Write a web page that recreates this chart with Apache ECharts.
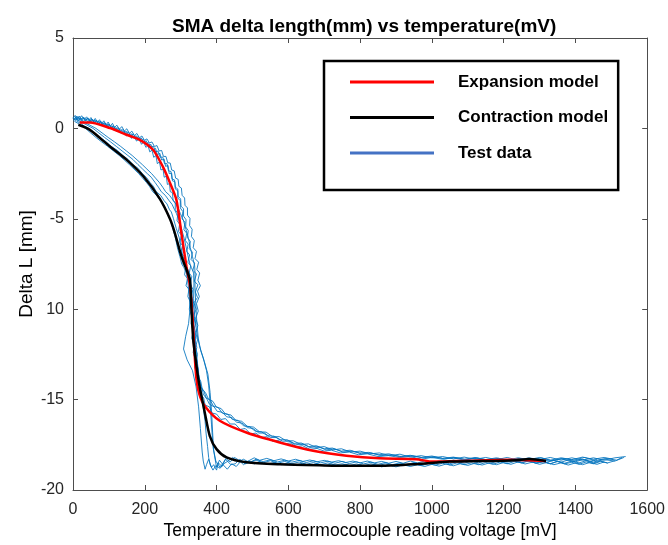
<!DOCTYPE html>
<html>
<head>
<meta charset="utf-8">
<script src="https://cdn.jsdelivr.net/npm/echarts@6/dist/echarts.min.js"></script>
<style>html,body{margin:0;padding:0;background:#fff}#chart{width:668px;height:545px}</style>
</head>
<body>
<div id="chart"></div>
<script>
const titleText = 'SMA delta length(mm) vs temperature(mV)';
const xAxisName = 'Temperature in thermocouple reading voltage [mV]';
const yAxisName = 'Delta L [mm]';
const yTickValues = [-20, -15, -10, -5, 0, 5];
const yTickLabels = ['-20', '-15', '10', '-5', '0', '5'];
const seriesNames = ['Expansion model', 'Contraction model', 'Test data'];

const expansionModel = [[19,0.33],[47,0.33],[103,0.02],[149,-0.35],[186,-0.63],[223,-1.18],[250,-2.1],[270,-3.0],[288,-3.94],[302,-5.78],[316,-7.62],[326,-8.72],[333,-10.38],[338,-12.2],[344,-13.87],[352,-14.7],[367,-15.35],[409,-16.17],[483,-16.82],[576,-17.37],[669,-17.83],[762,-18.1],[854,-18.25],[956,-18.3],[1003,-18.43],[1104,-18.38],[1216,-18.33],[1318,-18.4]];

const contractionModel = [[15,0.2],[47,-0.08],[103,-1.0],[149,-1.73],[196,-2.65],[242,-3.9],[270,-5.0],[284,-5.8],[302,-7.07],[318,-7.9],[326,-8.4],[330,-10.0],[335,-11.67],[344,-13.14],[352,-14.2],[360,-15.0],[367,-15.7],[381,-17.0],[400,-17.74],[428,-18.2],[483,-18.47],[576,-18.58],[700,-18.64],[771,-18.66],[863,-18.66],[956,-18.57],[1049,-18.43],[1141,-18.4],[1234,-18.35],[1271,-18.29],[1318,-18.4]];

const testHeat1 = [[0,0.55],[6,0.72],[12,0.5],[18,0.68],[24,0.45],[30,0.62],[36,0.42],[42,0.58],[48,0.36],[54,0.52],[60,0.3],[66,0.45],[72,0.22],[78,0.38],[84,0.14],[90,0.3],[96,0.05],[102,0.2],[108,-0.05],[114,0.1],[121,-0.15],[128,-0.02],[135,-0.3],[142,-0.15],[149,-0.42],[156,-0.3],[163,-0.55],[170,-0.42],[177,-0.7],[184,-0.58],[191,-0.88],[197,-0.75],[203,-1.05],[209,-0.95],[214,-1.3],[220,-1.2],[225,-1.6],[231,-1.5],[235,-1.95],[241,-1.85],[245,-2.3],[251,-2.25],[254,-2.7],[260,-2.65],[263,-3.1],[269,-3.05],[271,-3.5],[277,-3.55],[279,-4.0],[285,-4.1],[285,-4.5],[292,-4.7],[290,-5.1],[297,-5.3],[294,-5.7],[302,-5.9],[298,-6.3],[306,-6.5],[302,-6.9],[310,-7.1],[306,-7.5],[314,-7.7],[311,-8.1],[319,-8.3],[315,-8.7],[323,-8.9],[320,-9.3],[327,-9.6],[324,-10.0],[331,-10.4],[329,-10.8],[335,-11.2],[331,-11.6],[337,-12.0],[335,-12.4],[341,-12.8],[339,-13.2],[346,-13.6],[345,-14.0],[353,-14.3],[355,-14.7],[364,-14.9],[368,-15.3],[380,-15.4],[388,-15.75],[400,-15.8],[412,-16.1],[425,-16.05],[438,-16.35],[452,-16.35],[466,-16.65],[480,-16.6],[495,-16.9],[510,-16.85],[525,-17.1],[540,-17.05],[556,-17.3],[572,-17.25],[588,-17.45],[605,-17.4],[622,-17.6],[640,-17.55],[660,-17.75],[680,-17.7],[700,-17.85],[720,-17.8],[745,-17.95],[770,-17.9],[795,-18.05],[820,-18.0],[850,-18.15],[880,-18.1],[910,-18.2],[940,-18.15],[970,-18.3],[1000,-18.2],[1030,-18.3],[1060,-18.22],[1090,-18.35],[1120,-18.25],[1150,-18.38],[1180,-18.28],[1210,-18.4],[1240,-18.3],[1270,-18.42],[1300,-18.3],[1330,-18.4],[1360,-18.28],[1390,-18.42],[1420,-18.3],[1450,-18.45],[1480,-18.32],[1510,-18.4],[1535,-18.2]];

const testHeat2 = [[2,0.45],[8,0.62],[15,0.4],[22,0.58],[29,0.38],[36,0.55],[42,0.32],[48,0.5],[54,0.28],[60,0.46],[66,0.22],[72,0.4],[78,0.15],[84,0.32],[90,0.08],[96,0.25],[102,-0.02],[108,0.15],[114,-0.1],[120,0.05],[127,-0.2],[134,-0.05],[141,-0.3],[148,-0.15],[155,-0.42],[162,-0.28],[169,-0.52],[176,-0.4],[183,-0.65],[190,-0.52],[197,-0.8],[204,-0.68],[210,-0.98],[217,-0.88],[223,-1.2],[230,-1.1],[235,-1.45],[242,-1.38],[247,-1.75],[254,-1.7],[258,-2.1],[265,-2.05],[268,-2.5],[275,-2.48],[277,-2.9],[284,-2.95],[285,-3.35],[292,-3.45],[292,-3.85],[299,-4.0],[299,-4.4],[306,-4.6],[304,-5.0],[312,-5.2],[309,-5.6],[317,-5.8],[313,-6.2],[321,-6.4],[317,-6.8],[325,-7.0],[320,-7.4],[328,-7.6],[324,-8.0],[331,-8.2],[327,-8.6],[334,-8.9],[330,-9.3],[337,-9.7],[333,-10.1],[339,-10.5],[336,-10.9],[342,-11.3],[339,-11.7],[345,-12.1],[341,-12.5],[347,-12.9],[345,-13.3],[351,-13.7],[351,-14.1],[360,-14.4],[363,-14.7],[374,-15.0],[380,-15.25],[393,-15.4],[402,-15.65],[416,-15.7],[428,-15.95],[443,-16.0],[456,-16.25],[471,-16.3],[486,-16.55],[502,-16.6],[518,-16.85],[534,-16.85],[550,-17.1],[566,-17.1],[584,-17.3],[602,-17.3],[620,-17.5],[640,-17.45],[660,-17.65],[682,-17.6],[705,-17.78],[728,-17.72],[752,-17.9],[778,-17.85],[804,-18.0],[830,-17.95],[858,-18.1],[886,-18.05],[915,-18.15],[945,-18.1],[975,-18.22],[1005,-18.15],[1035,-18.28],[1065,-18.2],[1095,-18.32],[1125,-18.22],[1155,-18.35],[1185,-18.25],[1215,-18.38],[1245,-18.25],[1275,-18.35],[1305,-18.22],[1335,-18.38],[1365,-18.25],[1395,-18.35],[1425,-18.2],[1455,-18.38],[1485,-18.25],[1515,-18.35],[1530,-18.2]];

const testHeat3 = [[0,0.62],[7,0.45],[14,0.66],[21,0.48],[28,0.6],[34,0.42],[40,0.56],[46,0.38],[52,0.5],[58,0.32],[64,0.45],[70,0.25],[76,0.4],[82,0.18],[88,0.32],[94,0.1],[100,0.25],[106,0.02],[112,0.15],[119,-0.08],[126,0.05],[133,-0.18],[140,-0.05],[147,-0.3],[154,-0.18],[161,-0.42],[168,-0.3],[175,-0.55],[182,-0.45],[189,-0.7],[196,-0.6],[203,-0.85],[210,-0.78],[217,-1.05],[224,-0.98],[230,-1.3],[237,-1.25],[243,-1.6],[250,-1.58],[255,-1.95],[262,-1.95],[266,-2.35],[273,-2.38],[276,-2.8],[283,-2.85],[285,-3.25],[292,-3.35],[293,-3.75],[300,-3.9],[301,-4.3],[308,-4.45],[308,-4.85],[315,-5.05],[314,-5.45],[321,-5.65],[319,-6.05],[327,-6.25],[324,-6.65],[333,-6.85],[329,-7.25],[339,-7.45],[334,-7.85],[344,-8.05],[338,-8.45],[348,-8.65],[341,-9.05],[347,-9.35],[337,-9.65],[343,-10.0],[336,-10.4],[342,-10.8],[336,-11.2],[342,-11.6],[337,-12.0],[343,-12.4],[340,-12.8],[347,-13.2],[345,-13.6],[353,-13.9],[356,-14.3],[365,-14.55],[371,-14.9],[383,-15.05],[391,-15.35],[405,-15.45],[416,-15.75],[431,-15.8],[444,-16.1],[460,-16.15],[475,-16.45],[492,-16.5],[508,-16.75],[525,-16.78],[542,-17.0],[560,-17.02],[578,-17.22],[597,-17.22],[616,-17.42],[636,-17.4],[657,-17.6],[678,-17.55],[700,-17.72],[723,-17.68],[747,-17.85],[772,-17.8],[798,-17.95],[824,-17.92],[852,-18.05],[880,-18.0],[910,-18.15],[940,-18.08],[970,-18.2],[1000,-18.12],[1030,-18.25],[1060,-18.18],[1090,-18.3],[1120,-18.2],[1150,-18.32],[1180,-18.22],[1210,-18.35],[1240,-18.22],[1270,-18.32],[1300,-18.2],[1330,-18.35],[1360,-18.22],[1390,-18.32],[1420,-18.18],[1450,-18.3],[1480,-18.2],[1505,-18.3]];

const testHeat4 = [[4,0.5],[10,0.68],[17,0.52],[24,0.7],[31,0.5],[38,0.64],[44,0.45],[50,0.6],[56,0.4],[62,0.55],[68,0.34],[74,0.48],[80,0.28],[86,0.42],[92,0.2],[98,0.35],[104,0.12],[110,0.28],[116,0.05],[122,0.18],[129,-0.05],[136,0.1],[143,-0.15],[150,-0.02],[157,-0.28],[164,-0.15],[171,-0.4],[178,-0.28],[185,-0.52],[192,-0.42],[199,-0.66],[206,-0.58],[213,-0.8],[220,-0.75],[227,-1.0],[234,-0.95],[240,-1.25],[247,-1.22],[252,-1.55],[259,-1.55],[264,-1.9],[271,-1.92],[275,-2.3],[282,-2.35],[286,-2.75],[293,-2.82],[295,-3.2],[302,-3.3],[304,-3.7],[311,-3.85],[312,-4.25],[319,-4.4],[319,-4.8],[326,-4.98],[325,-5.38],[332,-5.58],[330,-5.98],[338,-6.2],[335,-6.6],[344,-6.8],[340,-7.2],[350,-7.4],[345,-7.8],[353,-8.0],[348,-8.4],[355,-8.7],[347,-9.0],[352,-9.3],[344,-9.7],[349,-10.1],[342,-10.5],[348,-10.9],[342,-11.3],[347,-11.7],[341,-12.1],[347,-12.5],[343,-12.9],[349,-13.3],[348,-13.7],[356,-14.0],[360,-14.4],[370,-14.65],[377,-14.95],[390,-15.1],[399,-15.4],[413,-15.5],[425,-15.8],[440,-15.85],[454,-16.15],[470,-16.2],[486,-16.48],[503,-16.52],[520,-16.78],[538,-16.8],[556,-17.05],[575,-17.05],[594,-17.28],[614,-17.28],[635,-17.48],[656,-17.45],[678,-17.65],[700,-17.6],[724,-17.78],[748,-17.72],[774,-17.9],[800,-17.85],[827,-18.0],[854,-17.95],[882,-18.1],[911,-18.02],[940,-18.18],[970,-18.1],[1000,-18.22],[1030,-18.15],[1060,-18.28],[1090,-18.18],[1120,-18.3],[1150,-18.2],[1180,-18.32],[1210,-18.2],[1240,-18.35],[1270,-18.22],[1300,-18.32],[1330,-18.2],[1360,-18.35],[1390,-18.22],[1420,-18.35],[1450,-18.22],[1480,-18.35],[1510,-18.22],[1540,-18.15]];

const testCool1 = [[1510,-18.38],[1490,-18.5],[1470,-18.42],[1450,-18.55],[1430,-18.45],[1410,-18.58],[1390,-18.47],[1370,-18.55],[1350,-18.43],[1330,-18.55],[1310,-18.45],[1290,-18.52],[1270,-18.4],[1250,-18.5],[1230,-18.42],[1210,-18.55],[1190,-18.45],[1170,-18.58],[1150,-18.48],[1130,-18.6],[1110,-18.5],[1090,-18.6],[1070,-18.5],[1050,-18.62],[1030,-18.52],[1010,-18.62],[990,-18.55],[970,-18.65],[950,-18.55],[930,-18.65],[910,-18.56],[890,-18.66],[870,-18.55],[850,-18.65],[830,-18.55],[810,-18.66],[790,-18.56],[770,-18.65],[750,-18.55],[730,-18.62],[710,-18.5],[690,-18.6],[670,-18.48],[650,-18.58],[630,-18.45],[610,-18.55],[590,-18.42],[570,-18.52],[550,-18.38],[530,-18.5],[510,-18.35],[492,-18.48],[475,-18.3],[460,-18.45],[445,-18.2],[432,-18.4],[420,-18.55],[410,-18.8],[398,-18.65],[390,-18.9],[382,-18.6],[378,-18.2],[375,-17.6],[371,-16.9],[368,-16.2],[364,-15.6],[360,-14.9],[356,-14.3],[351,-13.7],[347,-13.0],[343,-12.4],[340,-11.7],[337,-11.1],[335,-10.4],[333,-9.8],[331,-9.1],[328,-8.5],[324,-8.0],[316,-7.6],[312,-7.5],[306,-7.05],[303,-6.95],[300,-6.5],[296,-6.05],[293,-5.95],[288,-5.55],[284,-5.45],[280,-5.0],[274,-4.62],[269,-4.5],[262,-4.18],[254,-4.0],[245,-3.72],[232,-3.5],[224,-3.2],[215,-3.0],[205,-2.72],[193,-2.5],[181,-2.2],[167,-2.0],[154,-1.72],[139,-1.5],[124,-1.22],[107,-1.0],[91,-0.72],[74,-0.5],[59,-0.22],[44,0.0],[32,0.12],[20,0.3],[11,0.38],[5,0.5]];

const testCool2 = [[1490,-18.52],[1470,-18.4],[1450,-18.5],[1430,-18.38],[1410,-18.5],[1390,-18.4],[1370,-18.52],[1350,-18.4],[1330,-18.55],[1310,-18.42],[1290,-18.5],[1270,-18.38],[1250,-18.48],[1230,-18.36],[1210,-18.46],[1190,-18.36],[1170,-18.48],[1150,-18.38],[1130,-18.5],[1110,-18.4],[1090,-18.52],[1070,-18.42],[1050,-18.55],[1030,-18.44],[1010,-18.55],[990,-18.45],[970,-18.58],[950,-18.48],[930,-18.6],[910,-18.5],[890,-18.6],[870,-18.48],[850,-18.58],[830,-18.46],[810,-18.56],[790,-18.44],[770,-18.54],[750,-18.42],[730,-18.52],[710,-18.4],[690,-18.5],[670,-18.38],[650,-18.48],[630,-18.36],[610,-18.46],[590,-18.35],[570,-18.45],[550,-18.33],[530,-18.43],[510,-18.3],[495,-18.45],[480,-18.55],[468,-18.4],[455,-18.7],[442,-18.55],[430,-18.85],[418,-18.6],[408,-18.35],[400,-18.75],[396,-18.8],[390,-17.6],[386,-16.4],[382,-15.2],[378,-14.2],[372,-13.4],[363,-12.7],[352,-12.0],[344,-11.2],[339,-10.3],[336,-9.4],[337,-8.6],[336,-8.0],[330,-7.7],[326,-7.5],[321,-7.1],[319,-7.0],[315,-6.55],[314,-6.5],[310,-6.1],[308,-6.0],[303,-5.6],[300,-5.5],[296,-5.1],[294,-5.0],[288,-4.7],[283,-4.5],[276,-4.2],[268,-4.0],[257,-3.7],[246,-3.5],[238,-3.25],[229,-3.0],[218,-2.7],[207,-2.5],[194,-2.25],[181,-2.0],[167,-1.72],[153,-1.5],[137,-1.25],[121,-1.0],[105,-0.75],[88,-0.5],[72,-0.25],[56,0.0],[42,0.15],[28,0.3],[16,0.42],[5,0.55]];

const testCool3 = [[1480,-18.45],[1460,-18.58],[1440,-18.48],[1420,-18.6],[1400,-18.5],[1380,-18.62],[1360,-18.5],[1340,-18.6],[1320,-18.48],[1300,-18.58],[1280,-18.46],[1260,-18.56],[1240,-18.45],[1220,-18.58],[1200,-18.48],[1180,-18.6],[1160,-18.5],[1140,-18.62],[1120,-18.52],[1100,-18.64],[1080,-18.54],[1060,-18.66],[1040,-18.56],[1020,-18.68],[1000,-18.58],[980,-18.7],[960,-18.6],[940,-18.7],[920,-18.6],[900,-18.72],[880,-18.62],[860,-18.72],[840,-18.6],[820,-18.7],[800,-18.6],[780,-18.7],[760,-18.58],[740,-18.68],[720,-18.56],[700,-18.66],[680,-18.54],[660,-18.64],[640,-18.52],[620,-18.62],[600,-18.5],[580,-18.6],[560,-18.48],[540,-18.58],[520,-18.44],[505,-18.56],[490,-18.4],[475,-18.6],[462,-18.35],[450,-18.2],[438,-18.45],[426,-18.25],[415,-18.7],[405,-18.5],[400,-18.9],[392,-18.6],[386,-18.75],[378,-18.3],[372,-18.6],[368,-18.85],[363,-18.4],[360,-17.9],[355,-16.6],[350,-15.4],[343,-14.3],[333,-13.4],[318,-12.8],[308,-12.2],[314,-11.5],[322,-10.8],[326,-10.0],[324,-9.2],[320,-8.5],[316,-8.0],[309,-7.7],[303,-7.5],[298,-7.1],[295,-7.0],[291,-6.6],[290,-6.5],[286,-6.1],[284,-6.0],[279,-5.6],[276,-5.5],[272,-5.1],[270,-5.0],[264,-4.7],[259,-4.5],[251,-4.2],[244,-4.0],[233,-3.7],[222,-3.5],[213,-3.2],[205,-3.0],[194,-2.75],[183,-2.5],[170,-2.25],[157,-2.0],[143,-1.75],[129,-1.5],[113,-1.25],[97,-1.0],[80,-0.75],[64,-0.5],[49,-0.25],[35,0.0],[23,0.15],[12,0.3],[5,0.38],[2,0.45]];

const testCool4 = [[1460,-18.3],[1440,-18.42],[1420,-18.32],[1400,-18.44],[1380,-18.34],[1360,-18.46],[1340,-18.36],[1320,-18.46],[1300,-18.36],[1280,-18.45],[1260,-18.35],[1240,-18.44],[1220,-18.34],[1200,-18.42],[1180,-18.32],[1160,-18.42],[1140,-18.32],[1120,-18.44],[1100,-18.34],[1080,-18.46],[1060,-18.36],[1040,-18.48],[1020,-18.38],[1000,-18.5],[980,-18.4],[960,-18.5],[940,-18.4],[920,-18.52],[900,-18.42],[880,-18.52],[860,-18.42],[840,-18.5],[820,-18.4],[800,-18.5],[780,-18.4],[760,-18.48],[740,-18.38],[720,-18.46],[700,-18.36],[680,-18.44],[660,-18.34],[640,-18.42],[620,-18.3],[600,-18.4],[580,-18.28],[560,-18.38],[540,-18.25],[520,-18.36],[505,-18.22],[490,-18.38],[478,-18.5],[465,-18.3],[452,-18.55],[440,-18.6],[425,-18.3],[410,-18.75],[398,-18.4],[392,-17.8],[389,-16.8],[386,-15.6],[382,-14.6],[376,-13.6],[366,-12.9],[356,-12.3],[349,-11.6],[345,-10.7],[342,-9.7],[340,-8.8],[340,-8.0],[339,-7.6],[338,-7.5],[333,-7.1],[331,-7.0],[327,-6.6],[326,-6.5],[322,-6.1],[320,-6.0],[315,-5.6],[312,-5.5],[308,-5.1],[306,-5.0],[299,-4.7],[295,-4.5],[287,-4.2],[280,-4.0],[269,-3.7],[258,-3.5],[250,-3.25],[241,-3.0],[230,-2.75],[219,-2.5],[206,-2.25],[193,-2.0],[179,-1.75],[165,-1.5],[149,-1.25],[133,-1.0],[116,-0.75],[98,-0.5],[81,-0.25],[64,0.0],[50,0.15],[35,0.3],[22,0.45],[10,0.55]];

const testTraces = [testHeat1, testHeat2, testHeat3, testHeat4, testCool1, testCool2, testCool3, testCool4];

const axisColor = '#4d4d4d';
const labelColor = '#262626';
const fontFam = '"Liberation Sans", Arial, sans-serif';

const chart = echarts.init(document.getElementById('chart'), null, {renderer: 'canvas'});

const series = [];
testTraces.forEach(tr => {
  series.push({
    name: seriesNames[2], type: 'line', data: tr, showSymbol: false, symbol: 'none',
    lineStyle: {color: '#0072BD', width: 1, opacity: 0.85}, itemStyle: {color: '#0072BD'},
    z: 2, silent: true
  });
});
series.push({
  name: seriesNames[0], type: 'line', data: expansionModel, showSymbol: false, symbol: 'none', smooth: 0.25,
  lineStyle: {color: '#ff0000', width: 2.5}, itemStyle: {color: '#ff0000'}, z: 3
});
series.push({
  name: seriesNames[1], type: 'line', data: contractionModel, showSymbol: false, symbol: 'none', smooth: 0.25,
  lineStyle: {color: '#000000', width: 2.5}, itemStyle: {color: '#000000'}, z: 4
});

const baseX = {
  type: 'value', min: 0, max: 1600, interval: 200,
  axisLine: {show: true, onZero: false, lineStyle: {color: axisColor, width: 1}},
  axisTick: {show: true, inside: true, length: 5, lineStyle: {color: axisColor}},
  splitLine: {show: false}
};
const baseY = {
  type: 'value', min: -20, max: 5, interval: 5,
  axisLine: {show: true, onZero: false, lineStyle: {color: axisColor, width: 1}},
  axisTick: {show: true, inside: true, length: 5, lineStyle: {color: axisColor}},
  splitLine: {show: false}
};

chart.setOption({
  animation: false,
  backgroundColor: '#ffffff',
  title: {
    text: titleText, left: 167, top: 12,
    textStyle: {fontFamily: fontFam, fontSize: 19, fontWeight: 'bold', color: '#000'}
  },
  grid: {left: 73, right: 20, top: 38, bottom: 54, containLabel: false},
  legend: {
    show: true, orient: 'vertical', left: 324, top: 61,
    data: [
      {name: seriesNames[0], itemStyle: {color: '#ff0000'}},
      {name: seriesNames[1], itemStyle: {color: '#000000'}},
      {name: seriesNames[2], itemStyle: {color: '#4472C4'}}
    ],
    icon: 'rect', itemWidth: 84, itemHeight: 3, itemGap: 15.5,
    padding: [11, 10, 27, 26],
    backgroundColor: '#ffffff', borderColor: '#000000', borderWidth: 2.5, borderRadius: 0,
    textStyle: {fontFamily: fontFam, fontSize: 17, fontWeight: 'bold', color: '#000', lineHeight: 20, padding: [0, 0, 0, 19]},
    selectedMode: false
  },
  xAxis: [
    Object.assign({}, baseX, {
      position: 'bottom', name: xAxisName, nameLocation: 'middle', nameGap: 32, nameMoveOverlap: false,
      nameTextStyle: {fontFamily: fontFam, fontSize: 17.5, color: '#000'},
      axisLabel: {show: true, margin: 12, fontFamily: fontFam, fontSize: 16, color: labelColor, showMaxLabel: true, showMinLabel: true,
        formatter: v => String(v)}
    }),
    Object.assign({}, baseX, {position: 'top', axisLabel: {show: false}})
  ],
  yAxis: [
    Object.assign({}, baseY, {
      position: 'left', name: yAxisName, nameLocation: 'middle', nameGap: 37, nameMoveOverlap: false,
      nameTextStyle: {fontFamily: fontFam, fontSize: 19, color: '#000'},
      axisLabel: {
        show: true, margin: 9, fontFamily: fontFam, fontSize: 16, color: labelColor, showMaxLabel: true, showMinLabel: true,
        formatter: v => { const i = yTickValues.indexOf(v); return i >= 0 ? yTickLabels[i] : ''; }
      }
    }),
    Object.assign({}, baseY, {position: 'right', axisLabel: {show: false}})
  ],
  series: series
});
</script>
</body>
</html>
